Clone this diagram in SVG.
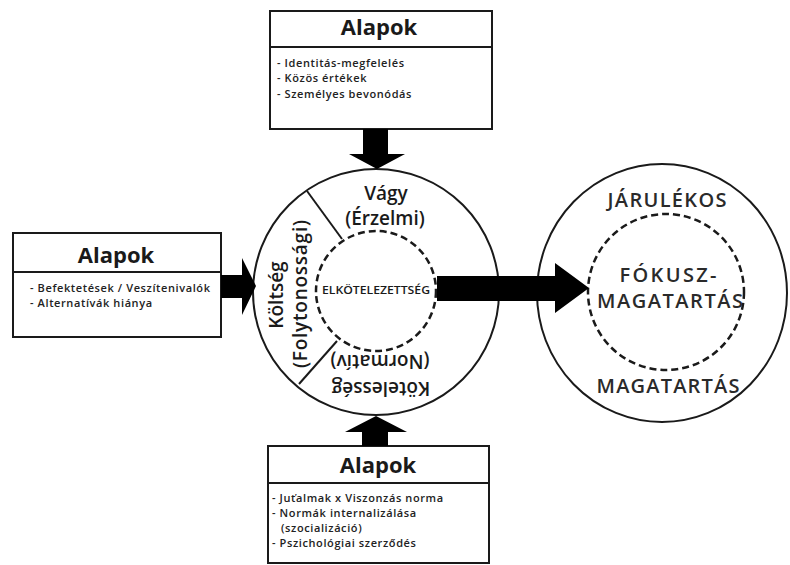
<svg xmlns="http://www.w3.org/2000/svg" width="790" height="565" viewBox="0 0 790 565">
<style>
.box{fill:#fff;stroke:#1a1a1a;stroke-width:2}
.sep{stroke:#1a1a1a;stroke-width:2}
.ttl{font-family:"Open Sans","Liberation Sans",sans-serif;font-weight:700;font-size:22px;fill:#1a1a1a;text-anchor:middle}
.itm{font-family:"Open Sans","Liberation Sans",sans-serif;font-weight:600;font-size:11px;letter-spacing:0.6px;fill:#222}
.circ{fill:#fff;stroke:#1a1a1a;stroke-width:2}
.dash{fill:none;stroke:#1a1a1a;stroke-width:2.5;stroke-dasharray:7 4}
.lbl{font-family:"Open Sans","Liberation Sans",sans-serif;font-weight:600;font-size:19px;fill:#1a1a1a;text-anchor:middle}
.cap{font-family:"Open Sans","Liberation Sans",sans-serif;font-weight:600;font-size:20px;fill:#2a2a2a;text-anchor:middle}
.core{font-family:"Open Sans","Liberation Sans",sans-serif;font-weight:600;font-size:10.5px;fill:#1a1a1a;text-anchor:middle}
.arr{fill:#000}
</style>

<g id="node-alapok-top">
  <rect class="box" x="270" y="11" width="222" height="118"/>
  <line class="sep" x1="270" y1="47" x2="492" y2="47"/>
  <text class="ttl" x="379" y="35">Alapok</text>
  <text class="itm" x="277" y="67">- Identitás-megfelelés</text>
  <text class="itm" x="277" y="82">- Közös értékek</text>
  <text class="itm" x="277" y="98">- Személyes bevonódás</text>
</g>

<g id="node-alapok-left">
  <rect class="box" x="13" y="233" width="208" height="104"/>
  <line class="sep" x1="13" y1="272" x2="221" y2="272"/>
  <text class="ttl" x="116" y="263">Alapok</text>
  <text class="itm" x="30" y="292">- Befektetések / Veszítenivalók</text>
  <text class="itm" x="30" y="307">- Alternatívák hiánya</text>
</g>

<g id="node-alapok-bottom">
  <rect class="box" x="268" y="446" width="221" height="117"/>
  <line class="sep" x1="268" y1="483" x2="489" y2="483"/>
  <text class="ttl" x="378" y="473">Alapok</text>
  <text class="itm" x="272" y="502">- Juťalmak x Viszonzás norma</text>
  <text class="itm" x="272" y="517">- Normák internalizálása</text>
  <text class="itm" x="281" y="532">(szocializáció)</text>
  <text class="itm" x="272" y="547">- Pszichológiai szerződés</text>
</g>

<g id="node-elkotelezettseg">
  <circle class="circ" cx="376" cy="292" r="123"/>
  <line class="sep" x1="307" y1="191" x2="342" y2="239"/>
  <line class="sep" x1="299" y1="384" x2="337" y2="341"/>
  <circle class="dash" cx="376" cy="291" r="60"/>
  <text class="lbl" x="386" y="200">Vágy</text>
  <text class="lbl" x="385" y="225">(Érzelmi)</text>
  <text class="lbl" x="283" y="295" transform="rotate(-90 283 295)">Költség</text>
  <text class="lbl" x="307" y="294" transform="rotate(-90 307 294)" textLength="148" lengthAdjust="spacing">(Folytonossági)</text>
  <text class="lbl" x="380" y="355" transform="rotate(180 380 355)">(Normatív)</text>
  <text class="lbl" x="381" y="382" transform="rotate(180 381 382)">Kötelesség</text>
  <text class="core" x="376" y="294" textLength="108" lengthAdjust="spacingAndGlyphs">ELKÖTELEZETTSÉG</text>
</g>

<g id="node-magatartas">
  <ellipse class="circ" cx="662" cy="293" rx="125" ry="129"/>
  <circle class="dash" cx="666" cy="292" r="78"/>
  <text class="cap" x="667" y="207" textLength="119" lengthAdjust="spacing">JÁRULÉKOS</text>
  <text class="cap" x="668" y="282" textLength="97" lengthAdjust="spacing">FÓKUSZ-</text>
  <text class="cap" x="670" y="308" textLength="146" lengthAdjust="spacing">MAGATARTÁS</text>
  <text class="cap" x="668" y="393" textLength="143" lengthAdjust="spacing">MAGATARTÁS</text>
</g>

<g id="connectors">
  <polygon class="arr" points="363,129 388,129 388,154 405,154 377,169 349,154 363,154"/>
  <polygon class="arr" points="221,275 242,275 242,258 256,286 242,315 242,298 221,298"/>
  <polygon class="arr" points="362,446 388,446 388,432 407,432 376,416 345,432 362,432"/>
  <polygon class="arr" points="437,276 555,276 555,263 589,288 555,313 555,301 437,301"/>
</g>
</svg>
